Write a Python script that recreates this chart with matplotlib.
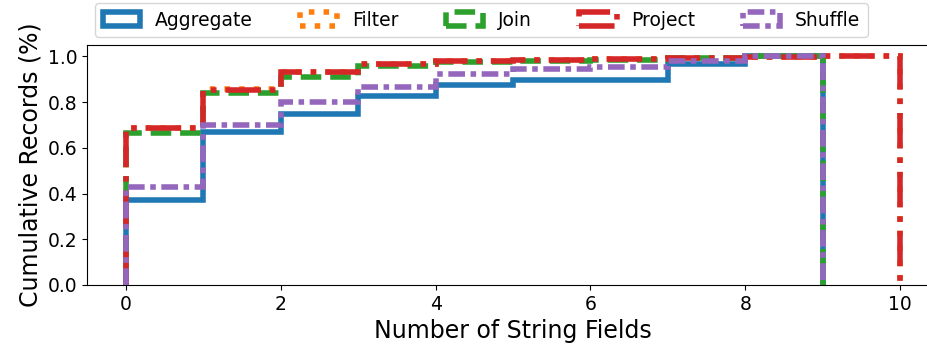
import numpy as np
import matplotlib
matplotlib.use("Agg")
import matplotlib.pyplot as plt

# Cumulative share of records having at most N string fields (one value per bin [N, N+1))
operators = ["Aggregate", "Filter", "Join", "Project", "Shuffle"]
aggregate_cdf = [0.373, 0.671, 0.749, 0.829, 0.873, 0.898, 0.898, 0.968, 1.0]
filter_cdf = [0.689, 0.856, 0.931, 0.965, 0.979, 0.985, 0.988, 0.993, 0.996, 1.0]
join_cdf = [0.667, 0.839, 0.911, 0.958, 0.975, 0.980, 0.984, 0.992, 1.0]
project_cdf = [0.687, 0.855, 0.931, 0.965, 0.979, 0.985, 0.988, 0.993, 0.996, 1.0]
shuffle_cdf = [0.430, 0.702, 0.800, 0.866, 0.924, 0.943, 0.952, 0.980, 1.0]

x_ticks = [0, 2, 4, 6, 8, 10]
y_ticks = [0.0, 0.2, 0.4, 0.6, 0.8, 1.0]

series = [aggregate_cdf, filter_cdf, join_cdf, project_cdf, shuffle_cdf]
colors = ["C0", "C1", "C2", "C3", "C4"]
styles = ["-", ":", "--", "-.", (0, (3, 1, 1, 1))]

fig = plt.figure(figsize=(9.28, 3.54), dpi=100)
ax = fig.add_axes([87.3 / 928, 69 / 354, 851.4 / 928, 240 / 354])

for name, cdf, color, ls in zip(operators, series, colors, styles):
    cdf = np.asarray(cdf)
    edges = np.arange(len(cdf) + 1)
    per_bin = np.diff(np.concatenate([[0.0], cdf]))
    ax.hist(edges[:-1], bins=edges, weights=per_bin, cumulative=True,
            histtype="step", color=color, linestyle=ls, linewidth=4,
            label=name)

ax.set_xticks(x_ticks)
ax.set_yticks(y_ticks)
ax.tick_params(labelsize=13.5)
ax.set_xlabel("Number of String Fields", fontsize=17)
ax.set_ylabel("Cumulative Records (%)", fontsize=17)

fig.legend(loc="upper center", bbox_to_anchor=(481.5 / 928, 1 - 3 / 354),
           ncol=5, fontsize=13.5, borderaxespad=0, columnspacing=2.5)

fig.savefig("out.png", dpi=100)
